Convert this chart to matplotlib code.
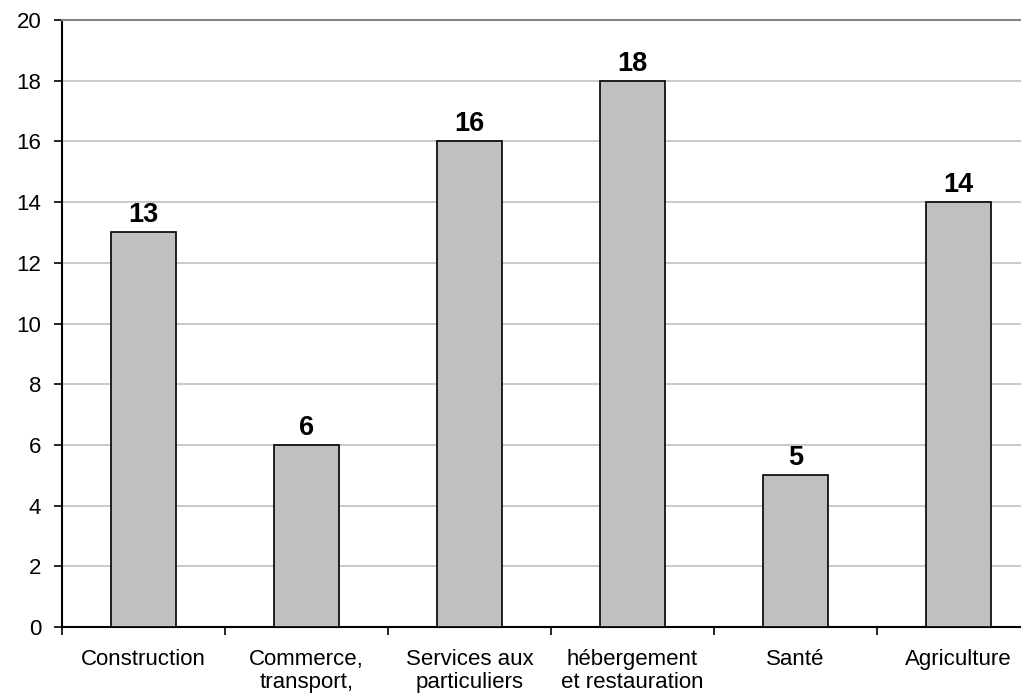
import matplotlib
matplotlib.use("Agg")
import matplotlib.pyplot as plt
import numpy as np

categories = ["Construction", "Commerce,\ntransport,", "Services aux\nparticuliers",
              "hébergement\net restauration", "Santé", "Agriculture"]
values = [13, 6, 16, 18, 5, 14]
yticks = list(range(0, 21, 2))

plt.rcParams['font.family'] = ['Liberation Sans', 'DejaVu Sans']

fig = plt.figure(figsize=(10.21, 6.94), dpi=100)
ax = fig.add_axes([62 / 1021, 67 / 694, 978 / 1021, 607 / 694])

x = np.arange(len(categories))
bars = ax.bar(x, values, width=0.4, color="#C0C0C0", edgecolor="black",
              linewidth=1.2, zorder=3)

for xi, v in zip(x, values):
    ax.annotate(str(v), (xi, v), xytext=(0, 3), textcoords="offset points",
                ha="center", va="bottom", fontsize=19.5, fontweight="bold", zorder=4)

ax.set_xlim(-0.5, len(categories) - 0.5)
ax.set_ylim(0, 20)
ax.set_yticks(yticks)
ax.set_yticklabels([str(t) for t in yticks])

ax.yaxis.grid(True, color="#C0C0C0", linewidth=1.2, zorder=0)
ax.set_axisbelow(True)

ax.set_xticks(x)
ax.set_xticklabels(categories, fontsize=16, linespacing=1.14)
ax.set_xticks(np.arange(-0.5, len(categories)), minor=True)
ax.tick_params(axis="x", which="major", length=0, pad=16)
ax.tick_params(axis="x", which="minor", length=6, width=1.2, direction="out")
ax.tick_params(axis="y", length=6, width=1.2, labelsize=16, pad=9)

for side in ("left", "bottom"):
    ax.spines[side].set_color("black")
    ax.spines[side].set_linewidth(1.5)
ax.spines["top"].set_color("#868686")
ax.spines["top"].set_linewidth(1.5)
ax.spines["right"].set_visible(False)

fig.savefig("out.png", dpi=100)
